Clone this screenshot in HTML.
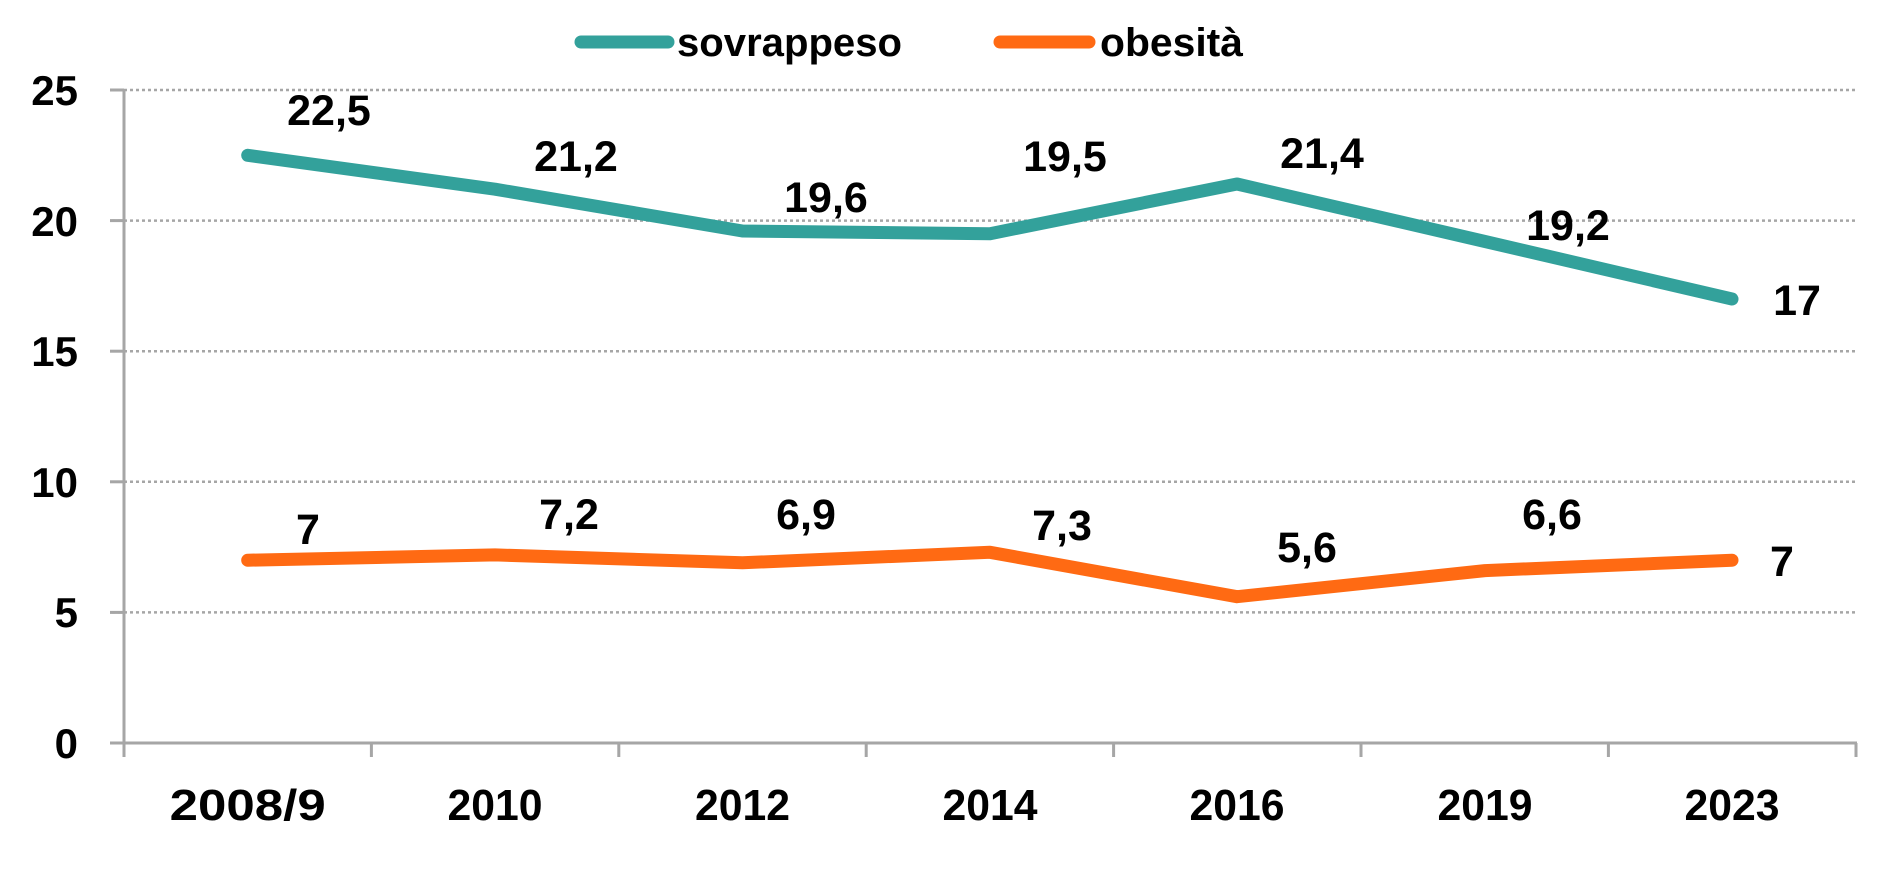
<!DOCTYPE html>
<html><head><meta charset="utf-8"><style>
html,body{margin:0;padding:0;background:#fff;}
svg{display:block;}
text{font-family:"Liberation Sans",sans-serif;font-weight:bold;fill:#000;}
</style></head><body>
<svg width="1897" height="889" viewBox="0 0 1897 889" xmlns="http://www.w3.org/2000/svg">
<g stroke="#a6a6a6" stroke-width="2.5" stroke-dasharray="3,3">
<line x1="112" y1="90" x2="1857" y2="90"/>
<line x1="112" y1="220.6" x2="1857" y2="220.6"/>
<line x1="112" y1="351.2" x2="1857" y2="351.2"/>
<line x1="112" y1="481.8" x2="1857" y2="481.8"/>
<line x1="112" y1="612.4" x2="1857" y2="612.4"/>
</g>
<g stroke="#a6a6a6" stroke-width="3" fill="none">
<line x1="124" y1="90" x2="124" y2="757"/>
<line x1="110" y1="743" x2="1857" y2="743"/>
<line x1="110" y1="90" x2="124" y2="90"/>
<line x1="110" y1="220.6" x2="124" y2="220.6"/>
<line x1="110" y1="351.2" x2="124" y2="351.2"/>
<line x1="110" y1="481.8" x2="124" y2="481.8"/>
<line x1="110" y1="612.4" x2="124" y2="612.4"/>
<line x1="371.4" y1="743" x2="371.4" y2="757"/>
<line x1="618.8" y1="743" x2="618.8" y2="757"/>
<line x1="866.2" y1="743" x2="866.2" y2="757"/>
<line x1="1113.6" y1="743" x2="1113.6" y2="757"/>
<line x1="1361" y1="743" x2="1361" y2="757"/>
<line x1="1608.4" y1="743" x2="1608.4" y2="757"/>
<line x1="1856" y1="743" x2="1856" y2="757"/>
</g>
<g font-size="42" text-anchor="end">
<text x="78" y="105">25</text>
<text x="78" y="236">20</text>
<text x="78" y="366">15</text>
<text x="78" y="497">10</text>
<text x="78" y="627">5</text>
<text x="78" y="758">0</text>
</g>
<g font-size="44" text-anchor="middle" lengthAdjust="spacingAndGlyphs">
<text x="247.7" y="820" textLength="156" lengthAdjust="spacingAndGlyphs">2008/9</text>
<text x="495" y="820" textLength="95" lengthAdjust="spacingAndGlyphs">2010</text>
<text x="742.5" y="820" textLength="95" lengthAdjust="spacingAndGlyphs">2012</text>
<text x="990" y="820" textLength="95" lengthAdjust="spacingAndGlyphs">2014</text>
<text x="1237" y="820" textLength="95" lengthAdjust="spacingAndGlyphs">2016</text>
<text x="1485" y="820" textLength="95" lengthAdjust="spacingAndGlyphs">2019</text>
<text x="1732" y="820" textLength="95" lengthAdjust="spacingAndGlyphs">2023</text>
</g>
<polyline fill="none" stroke="#33a19b" stroke-width="13" stroke-linecap="round" stroke-linejoin="round"
 points="247.7,155.3 495,189.2 742.5,231.0 990,233.7 1237,184.0 1485,241.5 1732,299.0"/>
<polyline fill="none" stroke="#ff6a13" stroke-width="13" stroke-linecap="round" stroke-linejoin="round"
 points="247.7,560.2 495,554.9 742.5,562.8 990,552.3 1237,596.7 1485,570.6 1732,560.2"/>
<g font-size="43" text-anchor="middle">
<text x="329" y="125">22,5</text>
<text x="576" y="171">21,2</text>
<text x="826" y="212">19,6</text>
<text x="1065" y="171">19,5</text>
<text x="1322" y="168">21,4</text>
<text x="1568" y="240">19,2</text>
<text x="1797" y="315">17</text>
<text x="308" y="544">7</text>
<text x="569" y="529">7,2</text>
<text x="806" y="529">6,9</text>
<text x="1062" y="540">7,3</text>
<text x="1307" y="562">5,6</text>
<text x="1552" y="529">6,6</text>
<text x="1782" y="576">7</text>
</g>
<line x1="581" y1="42" x2="668" y2="42" stroke="#33a19b" stroke-width="13" stroke-linecap="round"/>
<text x="677" y="56" font-size="40" textLength="225" lengthAdjust="spacingAndGlyphs">sovrappeso</text>
<line x1="1000" y1="42" x2="1089" y2="42" stroke="#ff6a13" stroke-width="13" stroke-linecap="round"/>
<text x="1100" y="56" font-size="40" textLength="143" lengthAdjust="spacingAndGlyphs">obesità</text>
</svg>
</body></html>
